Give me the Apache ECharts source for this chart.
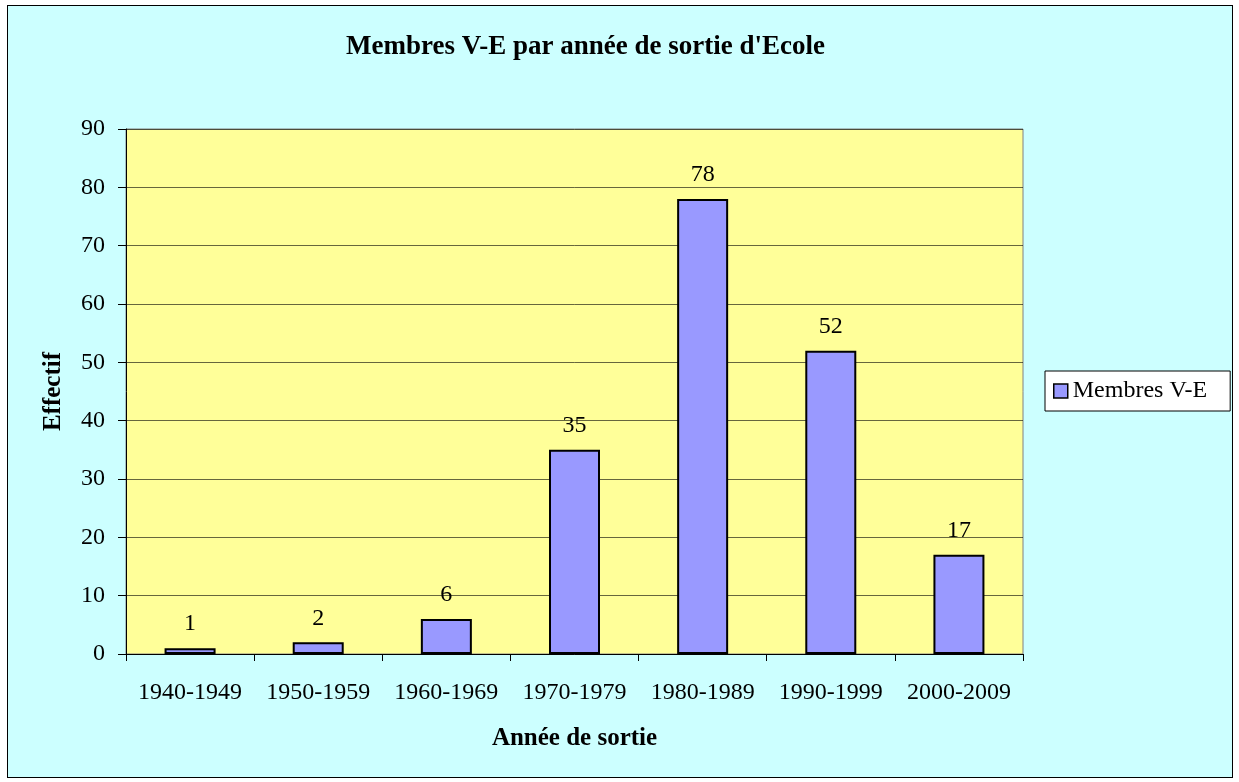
<!DOCTYPE html>
<html>
<head>
<meta charset="utf-8">
<script src="https://cdn.jsdelivr.net/npm/echarts@6/dist/echarts.min.js"></script>
<style>
  html, body { margin: 0; padding: 0; background: #fff; }
  #chart {
    position: absolute;
    left: 7px;
    top: 5px;
    width: 1224px;
    height: 771px;
    border: 1px solid #000;
    background: #ccffff;
  }
</style>
</head>
<body>
<div id="chart"></div>
<script>
// categories and values
const categories = ["1940-1949", "1950-1959", "1960-1969", "1970-1979", "1980-1989", "1990-1999", "2000-2009"];
const membres = [1, 2, 6, 35, 78, 52, 17];
const yTicks = [0, 10, 20, 30, 40, 50, 60, 70, 80, 90];

const serif = "'Liberation Serif', 'Times New Roman', serif";

let myChart = echarts.init(document.getElementById('chart'));
let option = {
  backgroundColor: 'transparent',
  textStyle: { fontFamily: serif, color: '#000' },
  title: {
    text: "Membres V-E par année de sortie d'Ecole",
    left: 333,
    top: 23,
    textStyle: { fontFamily: serif, fontSize: 27, fontWeight: 'bold', color: '#000' }
  },
  legend: {
    data: ['Membres V-E'],
    left: 1037,
    top: 365,
    orient: 'vertical',
    icon: 'rect',
    itemWidth: 14,
    itemHeight: 14,
    padding: [8, 23, 8, 8],
    backgroundColor: '#fff',
    borderColor: '#000',
    borderWidth: 1,
    borderRadius: 0,
    itemStyle: { borderColor: '#000', borderWidth: 1.5 },
    textStyle: { fontFamily: serif, fontSize: 24, color: '#000' }
  },
  grid: {
    show: true,
    left: 118,
    top: 123,
    width: 897,
    height: 525,
    backgroundColor: '#ffff99',
    borderColor: '#808080',
    borderWidth: 1,
    containLabel: false
  },
  xAxis: {
    type: 'category',
    data: categories,
    name: 'Année de sortie',
    nameLocation: 'middle',
    nameGap: 72,
    nameTextStyle: { fontFamily: serif, fontSize: 25, fontWeight: 'bold', color: '#000' },
    axisLine: { show: true, lineStyle: { color: '#000', width: 1 } },
    axisTick: { show: true, interval: 0, alignWithLabel: false, length: 7, lineStyle: { color: '#000' } },
    axisLabel: { interval: 0, hideOverlap: false, fontFamily: serif, fontSize: 24, color: '#000', margin: 27 },
    splitLine: { show: false }
  },
  yAxis: {
    type: 'value',
    min: yTicks[0],
    max: yTicks[yTicks.length - 1],
    interval: 10,
    name: 'Effectif',
    nameLocation: 'middle',
    nameGap: 60,
    nameRotate: 90,
    nameTextStyle: { fontFamily: serif, fontSize: 25, fontWeight: 'bold', color: '#000' },
    axisLine: { show: true, lineStyle: { color: '#000', width: 1 } },
    axisTick: { show: true, length: 8, lineStyle: { color: '#000' } },
    axisLabel: { fontFamily: serif, fontSize: 24, color: '#000', margin: 21 },
    splitLine: { show: true, lineStyle: { color: '#000', width: 1, opacity: 0.6 } }
  },
  series: [{
    name: 'Membres V-E',
    type: 'bar',
    data: membres,
    barWidth: 51,
    itemStyle: { color: '#9999ff', borderColor: '#000', borderWidth: 2 },
    label: {
      show: true,
      position: 'top',
      distance: 12,
      fontFamily: serif,
      fontSize: 24,
      color: '#000'
    }
  }]
};
myChart.setOption(option);
</script>
</body>
</html>
